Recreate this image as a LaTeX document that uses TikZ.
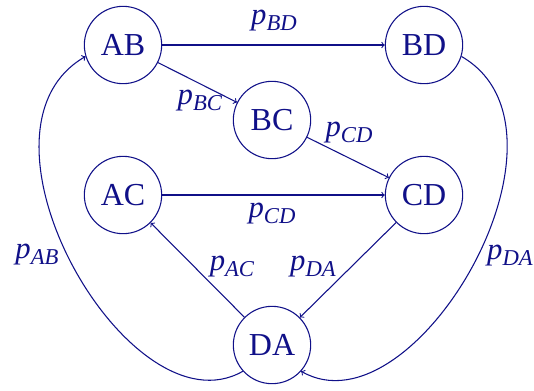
\documentclass[tikz,border=0pt]{standalone}
\usepackage{fontspec}
\setmainfont{Liberation Serif}
\definecolor{ink}{RGB}{16,16,136}
% probability label: italic p with a lowered italic subscript
\newcommand{\prob}[1]{\textit{p}\raisebox{-0.17em}{\fontsize{17}{19}\selectfont\textit{#1}}}
\begin{document}
\begin{tikzpicture}[x=0.75pt,y=-0.75pt,
  state/.style={circle,draw=ink,line width=0.8pt,minimum size=58pt,inner sep=0pt,
    text=ink,font=\fontsize{24}{27}\selectfont},
  edge/.style={->,draw=ink,line width=0.8pt},
  lbl/.style={text=ink,font=\fontsize{23}{26}\selectfont,inner sep=0pt}]
\useasboundingbox (0,0) rectangle (534,390);

\node[state] (AB) at (123,45) {AB};
\node[state] (BD) at (424,45) {BD};
\node[state] (BC) at (272,120) {BC};
\node[state] (AC) at (123,195) {AC};
\node[state] (CD) at (424,195) {CD};
\node[state] (DA) at (272,345) {DA};

\draw[edge] (AB) -- (BD);
\draw[edge] (AB) -- (BC);
\draw[edge] (BC) -- (CD);
\draw[edge] (AC) -- (CD);
\draw[edge] (CD) -- (DA);
\draw[edge] (DA) -- (AC);
\draw[edge] (DA.222) .. controls +(-113,65) and +(-130,75) .. (AB.197);
\draw[edge] (BD.343) .. controls +(130,75) and +(113,65) .. (DA.318);

\node[lbl] (lBD) at (274,21) {\prob{BD}};
\node[lbl] (lBC) at (200,101) {\prob{BC}};
\node[lbl] (lCD1) at (349,133) {\prob{CD}};
\node[lbl] (lCD2) at (272,214) {\prob{CD}};
\node[lbl] (lAC) at (232,267) {\prob{AC}};
\node[lbl] (lDA1) at (313,267) {\prob{DA}};
\node[lbl] (lAB) at (37,255) {\prob{AB}};
\node[lbl] (lDA2) at (510,256) {\prob{DA}};
\end{tikzpicture}
\end{document}
